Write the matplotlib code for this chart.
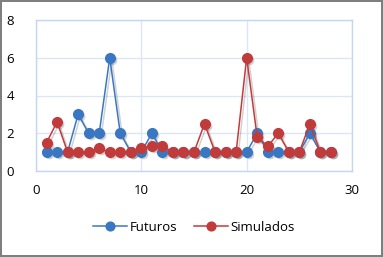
import matplotlib
matplotlib.use("Agg")
import matplotlib.pyplot as plt
import matplotlib.transforms as mtrans

# datos
dias = list(range(1, 29))
futuros = [1, 1, 1, 3, 2, 2, 6, 2, 1, 1, 2, 1, 1, 1, 1, 1, 1, 1, 1, 1,
           2, 1, 1, 1, 1, 2, 1, 1]
simulados = [1.5, 2.6, 1, 1, 1, 1.2, 1, 1, 1, 1.2, 1.35, 1.3, 1, 1, 1, 2.5,
             1, 1, 1, 6, 1.8, 1.3, 2, 1, 1, 2.5, 1, 1]

azul = '#3A77C2'
rojo = '#C23B3B'
grid_col = '#DCE7F5'

plt.rcParams['font.family'] = ['Open Sans', 'DejaVu Sans']

fig = plt.figure(figsize=(3.83, 2.57), dpi=100)
fig.patch.set_edgecolor('#7F7F7F')
fig.patch.set_linewidth(1.5)
ax = fig.add_axes([36 / 383, 86 / 257, 316 / 383, 151 / 257])

# sombra tipo Excel: copia gris desplazada
tr_sombra = mtrans.offset_copy(ax.transData, fig=fig, x=1.5, y=-1.5, units='points')
for serie in (futuros, simulados):
    ax.plot(dias, serie, color='#000000', alpha=0.18, lw=1.1, marker='o', ms=7,
            mew=0, transform=tr_sombra, zorder=2)

ax.plot(dias, futuros, color=azul, lw=1.1, marker='o', ms=7,
        mec=azul, mfc=azul, label='Futuros', zorder=3)
ax.plot(dias, simulados, color=rojo, lw=1.1, marker='o', ms=7,
        mec=rojo, mfc=rojo, label='Simulados', zorder=4)

ax.set_xlim(0, 30)
ax.set_ylim(0, 8)
ax.set_xticks([0, 10, 20, 30])
ax.set_yticks([0, 2, 4, 6, 8])
ax.grid(True, color=grid_col, lw=1)
ax.set_axisbelow(True)
for s in ax.spines.values():
    s.set_color('#C5D7EE')
    s.set_linewidth(1)
ax.tick_params(length=0, labelsize=9.5, colors='black', pad=9)
ax.tick_params(axis='y', pad=16)

ax.legend(loc='upper center', bbox_to_anchor=(0.5, -0.25), ncol=2,
          frameon=False, fontsize=9.5, handlelength=2.6, columnspacing=1.2,
          handletextpad=0.2, markerscale=0.9)

fig.savefig('out.png', dpi=100)
